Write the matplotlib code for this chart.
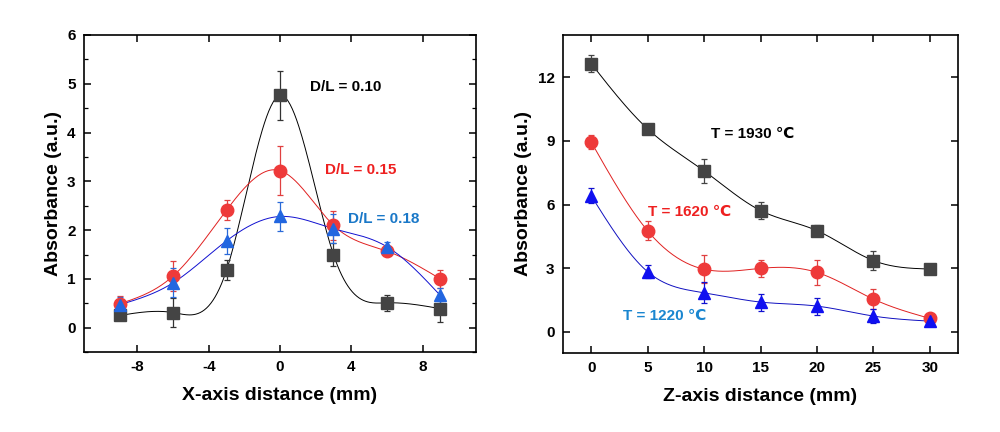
import numpy as np
import matplotlib
matplotlib.use("Agg")
import matplotlib.pyplot as plt

plt.rcParams['font.family'] = ['Liberation Sans', 'DejaVu Sans']
plt.rcParams['font.weight'] = 'bold'
plt.rcParams['axes.unicode_minus'] = False

# ---- Left panel data ----
x_pos = [-9, -6, -3, 0, 3, 6, 9]
dl010 = [0.25, 0.31, 1.18, 4.76, 1.50, 0.51, 0.39]
dl010_err = [0.10, 0.29, 0.20, 0.50, 0.23, 0.17, 0.28]
dl015 = [0.49, 1.06, 2.41, 3.22, 2.10, 1.57, 1.00]
dl015_err = [0.15, 0.30, 0.20, 0.50, 0.30, 0.08, 0.18]
dl018 = [0.47, 0.92, 1.78, 2.28, 2.03, 1.66, 0.66]
dl018_err = [0.15, 0.30, 0.27, 0.30, 0.30, 0.10, 0.15]

# ---- Right panel data ----
z_pos = [0, 5, 10, 15, 20, 25, 30]
t1930 = [12.65, 9.57, 7.59, 5.72, 4.77, 3.36, 2.96]
t1930_err = [0.40, 0.25, 0.55, 0.42, 0.25, 0.45, 0.10]
t1620 = [8.95, 4.76, 2.95, 2.99, 2.80, 1.54, 0.63]
t1620_err = [0.35, 0.45, 0.65, 0.40, 0.60, 0.48, 0.10]
t1220 = [6.41, 2.83, 1.84, 1.40, 1.21, 0.74, 0.50]
t1220_err = [0.35, 0.30, 0.50, 0.40, 0.40, 0.35, 0.10]


def natural_spline(x, y, n=300):
    x = np.asarray(x, float); y = np.asarray(y, float)
    m = len(x)
    h = np.diff(x)
    A = np.zeros((m, m)); b = np.zeros(m)
    A[0, 0] = 1; A[-1, -1] = 1
    for i in range(1, m - 1):
        A[i, i - 1] = h[i - 1]
        A[i, i] = 2 * (h[i - 1] + h[i])
        A[i, i + 1] = h[i]
        b[i] = 6 * ((y[i + 1] - y[i]) / h[i] - (y[i] - y[i - 1]) / h[i - 1])
    M = np.linalg.solve(A, b)
    xs = np.linspace(x[0], x[-1], n)
    idx = np.clip(np.searchsorted(x, xs) - 1, 0, m - 2)
    x0 = x[idx]; x1 = x[idx + 1]; hh = x1 - x0
    t0 = x1 - xs; t1 = xs - x0
    ys = (M[idx] * t0**3 / (6 * hh) + M[idx + 1] * t1**3 / (6 * hh)
          + (y[idx] / hh - M[idx] * hh / 6) * t0
          + (y[idx + 1] / hh - M[idx + 1] * hh / 6) * t1)
    return xs, ys


fig = plt.figure(figsize=(10, 4.32), dpi=100)
ax1 = fig.add_axes([0.084, 0.185, 0.392, 0.734])
ax2 = fig.add_axes([0.563, 0.183, 0.395, 0.736])


def draw(ax, x, y, e, mcol, lcol, ecol, marker, ms):
    xs, ys = natural_spline(x, y)
    ax.plot(xs, ys, color=lcol, lw=0.7, zorder=2)
    ax.errorbar(x, y, yerr=e, fmt='none', ecolor=ecol, elinewidth=0.9,
                capsize=2.5, capthick=0.9, zorder=3)
    ax.plot(x, y, linestyle='none', marker=marker, ms=ms, color=mcol,
            markeredgecolor=mcol, zorder=4)


draw(ax1, x_pos, dl010, dl010_err, '#444444', '#000000', '#333333', 's', 8)
draw(ax1, x_pos, dl015, dl015_err, '#ee3a3a', '#e02020', '#e04040', 'o', 9)
draw(ax1, x_pos, dl018, dl018_err, '#2266e0', '#1010d0', '#2a6ad8', '^', 9)

draw(ax2, z_pos, t1930, t1930_err, '#444444', '#000000', '#444444', 's', 8)
draw(ax2, z_pos, t1620, t1620_err, '#ee3a3a', '#e02020', '#e04040', 'o', 9)
draw(ax2, z_pos, t1220, t1220_err, '#1010f0', '#1010c0', '#1010d0', '^', 9)

ax1.set_xlim(-11, 11)
ax1.set_ylim(-0.5, 6)
ax1.set_xticks([-8, -4, 0, 4, 8])
ax1.set_yticks([0, 1, 2, 3, 4, 5, 6])
ax1.set_yticks(np.arange(-0.5, 6.01, 0.5), minor=True)

ax2.set_xlim(-2.5, 32.5)
ax2.set_ylim(-1, 14)
ax2.set_xticks(z_pos)
ax2.set_yticks([0, 3, 6, 9, 12])

for ax in (ax1, ax2):
    for s in ax.spines.values():
        s.set_linewidth(1.2)
    ax.tick_params(which='major', direction='in', length=5, width=1.1,
                   top=True, right=True, labelsize=11, pad=6)
    ax.tick_params(which='minor', direction='in', length=3, width=0.9,
                   top=False, bottom=False, left=True, right=True)
    for lab in ax.get_xticklabels() + ax.get_yticklabels():
        lab.set_fontweight('bold')
    ax.set_ylabel('Absorbance (a.u.)', fontsize=14, fontweight='bold', labelpad=4)

ax1.set_xlabel('X-axis distance (mm)', fontsize=14, fontweight='bold', labelpad=9)
ax2.set_xlabel('Z-axis distance (mm)', fontsize=14, fontweight='bold', labelpad=9)

ax1.text(1.66, 4.94, 'D/L = 0.10', color='#000000', fontsize=11,
         fontweight='bold', va='center', ha='left')
ax1.text(2.55, 3.24, 'D/L = 0.15', color='#ee2020', fontsize=11,
         fontweight='bold', va='center', ha='left')
ax1.text(3.81, 2.22, 'D/L = 0.18', color='#1a78c8', fontsize=11,
         fontweight='bold', va='center', ha='left')

ax2.text(10.59, 9.34, 'T = 1930 ℃', color='#000000', fontsize=11,
         fontweight='bold', va='center', ha='left')
ax2.text(5.07, 5.67, 'T = 1620 ℃', color='#ee2020', fontsize=11,
         fontweight='bold', va='center', ha='left')
ax2.text(2.79, 0.76, 'T = 1220 ℃', color='#1a86d0', fontsize=11,
         fontweight='bold', va='center', ha='left')

fig.savefig('out.png', dpi=100)
